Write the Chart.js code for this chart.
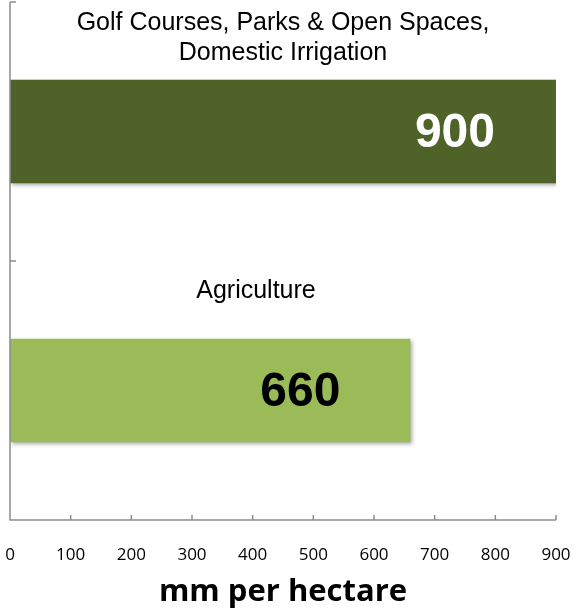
<!DOCTYPE html>
<html>
<head>
<meta charset="utf-8">
<script src="https://cdn.jsdelivr.net/npm/chart.js@4.4.1/dist/chart.umd.min.js"></script>
<style>
  html, body { margin: 0; padding: 0; background: #fff; }
  #wrap { width: 577px; height: 611px; }
</style>
</head>
<body>
<div id="wrap"><canvas id="chart"></canvas></div>
<script>
// chart data
const categories = [['Golf Courses, Parks & Open Spaces,', 'Domestic Irrigation'], 'Agriculture'];
const values = [900, 660];
const barColors = ['#4f6228', '#9bbb59'];
const valueColors = ['#ffffff', '#000000'];
const xTicks = [0, 100, 200, 300, 400, 500, 600, 700, 800, 900];
const axisTitle = 'mm per hectare';

// soft drop shadow under the bars
const barShadow = {
    id: 'barShadow',
    beforeDatasetDraw(chart) {
        const ctx = chart.ctx;
        ctx.save();
        ctx.shadowColor = 'rgba(0,0,0,0.35)';
        ctx.shadowBlur = 4;
        ctx.shadowOffsetX = 2;
        ctx.shadowOffsetY = 2;
    },
    afterDatasetDraw(chart) {
        chart.ctx.restore();
    }
};

// axis lines and inside tick marks
const axisLines = {
    id: 'axisLines',
    afterDraw(chart) {
        const ctx = chart.ctx;
        const a = chart.chartArea;
        const x = chart.scales.x;
        const y = chart.scales.y;
        ctx.save();
        ctx.strokeStyle = '#8c8c8c';
        ctx.lineWidth = 1.5;
        ctx.beginPath();
        ctx.moveTo(a.left, a.top);
        ctx.lineTo(a.left, a.bottom);
        ctx.lineTo(a.right, a.bottom);
        // x ticks pointing up
        xTicks.forEach(v => {
            const px = x.getPixelForValue(v);
            ctx.moveTo(px, a.bottom);
            ctx.lineTo(px, a.bottom - 5);
        });
        // y ticks at category boundaries
        for (let i = 0; i <= categories.length; i++) {
            const py = y.getPixelForValue(i - 0.5);
            ctx.moveTo(a.left, py);
            ctx.lineTo(a.left + 6, py);
        }
        ctx.stroke();
        ctx.restore();
    }
};

// category names above the bars and values inside them
const barTexts = {
    id: 'barTexts',
    afterDatasetsDraw(chart) {
        const ctx = chart.ctx;
        const a = chart.chartArea;
        const meta = chart.getDatasetMeta(0);
        const labelShift = [0, -27];
        const labelGap = [-78, -99];
        const valueGap = [61, 70];
        ctx.save();
        meta.data.forEach((bar, i) => {
            const lines = Array.isArray(categories[i]) ? categories[i] : [categories[i]];
            ctx.font = '25px "Liberation Sans", Arial, sans-serif';
            ctx.fillStyle = '#000';
            ctx.textAlign = 'center';
            ctx.textBaseline = 'middle';
            const cx = (a.left + a.right) / 2 + labelShift[i];
            lines.forEach((t, j) => {
                ctx.fillText(t, cx, bar.y + labelGap[i] - (lines.length - 1 - j) * 30);
            });
            ctx.font = 'bold 48px "Liberation Sans", Arial, sans-serif';
            ctx.fillStyle = valueColors[i];
            ctx.textAlign = 'right';
            ctx.fillText(String(values[i]), bar.x - valueGap[i], bar.y + 2);
        });
        ctx.restore();
    }
};

new Chart(document.getElementById('chart'), {
    type: 'bar',
    data: {
        labels: categories,
        datasets: [{
            data: values,
            backgroundColor: barColors,
            borderWidth: 0,
            barPercentage: 0.4,
            categoryPercentage: 1
        }]
    },
    options: {
        indexAxis: 'y',
        responsive: true,
        maintainAspectRatio: false,
        animation: false,
        layout: { padding: { top: 2, left: 10, right: 21, bottom: 0 } },
        plugins: {
            legend: { display: false },
            tooltip: { enabled: false }
        },
        scales: {
            x: {
                min: 0,
                max: 900,
                grid: { display: false, drawTicks: false },
                border: { display: false },
                afterBuildTicks(scale) {
                    scale.ticks = xTicks.map(v => ({ value: v }));
                },
                afterFit(scale) {
                    scale.height = 91;
                    scale.paddingLeft = 0;
                    scale.paddingRight = 0;
                },
                ticks: {
                    padding: 25,
                    maxRotation: 0,
                    color: '#000',
                    font: { family: '"Open Sans", sans-serif', size: 17 }
                },
                title: {
                    display: true,
                    text: axisTitle,
                    color: '#000',
                    padding: { top: 5, bottom: 0 },
                    font: { family: '"Open Sans", sans-serif', size: 31, weight: 'bold' }
                }
            },
            y: {
                display: false
            }
        }
    },
    plugins: [barShadow, axisLines, barTexts]
});
</script>
</body>
</html>
